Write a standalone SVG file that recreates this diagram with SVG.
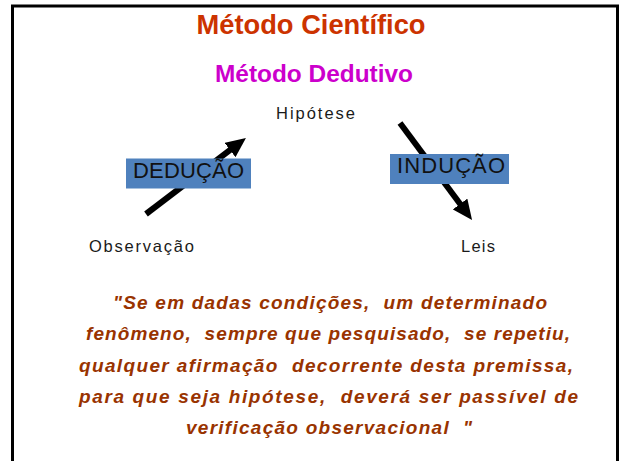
<svg xmlns="http://www.w3.org/2000/svg" width="621" height="461" viewBox="0 0 621 461">
<style>
.lbl{font-family:"Liberation Sans",Arial,sans-serif;font-size:16.5px;fill:#1a1a1a}
.box{fill:#4F81BD}
.boxt{font-family:"Liberation Sans",Arial,sans-serif;font-size:22px;fill:#111}
.q{font-family:"Liberation Sans",Arial,sans-serif;font-size:19px;font-weight:bold;font-style:italic;fill:#993300;white-space:pre}
.arr{stroke:#000;stroke-width:6;fill:none}
</style>
<defs>
<marker id="ah" viewBox="0 0 20 18" refX="6" refY="9" markerWidth="20" markerHeight="18" markerUnits="userSpaceOnUse" orient="auto">
<path d="M0,0 L20,9 L0,18 z" fill="#000"/>
</marker>
</defs>
<rect x="0" y="0" width="621" height="461" fill="#fff"/>
<rect x="12.5" y="6" width="605" height="500" fill="none" stroke="#000" stroke-width="3"/>
<text x="311" y="34" text-anchor="middle" font-family="Liberation Sans, Arial, sans-serif" font-size="28" font-weight="bold" fill="#CC3300" textLength="229" lengthAdjust="spacingAndGlyphs">Método Científico</text>
<text x="314" y="82" text-anchor="middle" font-family="Liberation Sans, Arial, sans-serif" font-size="24" font-weight="bold" fill="#CC00CC" textLength="198" lengthAdjust="spacingAndGlyphs">Método Dedutivo</text>
<g id="connectors">
<line class="arr" x1="146" y1="214" x2="234.8" y2="146.4" marker-end="url(#ah)"/>
<line class="arr" x1="400" y1="123" x2="463.7" y2="208.8" marker-end="url(#ah)"/>
</g>
<g id="hipotese"><text class="lbl" x="276" y="119" textLength="79" lengthAdjust="spacing">Hipótese</text></g>
<g id="observacao"><text class="lbl" x="89" y="252" textLength="105" lengthAdjust="spacing">Observação</text></g>
<g id="leis"><text class="lbl" x="461" y="252" textLength="34" lengthAdjust="spacing">Leis</text></g>
<g id="deducao">
<rect class="box" x="126" y="158.5" width="125" height="30"/>
<text class="boxt" x="133" y="178" textLength="111" lengthAdjust="spacing">DEDUÇÃO</text>
</g>
<g id="inducao">
<rect class="box" x="390" y="154" width="119" height="30"/>
<text class="boxt" x="397" y="173" textLength="108" lengthAdjust="spacing">INDUÇÃO</text>
</g>
<g id="citacao">
<text class="q" x="113" y="309" textLength="434" lengthAdjust="spacing">"Se em dadas condições,  um determinado</text>
<text class="q" x="86" y="340" textLength="484" lengthAdjust="spacing">fenômeno,  sempre que pesquisado,  se repetiu,</text>
<text class="q" x="79" y="372" textLength="494" lengthAdjust="spacing">qualquer afirmação  decorrente desta premissa,</text>
<text class="q" x="79" y="403" textLength="499" lengthAdjust="spacing">para que seja hipótese,  deverá ser passível de</text>
<text class="q" x="186" y="434" textLength="286" lengthAdjust="spacing">verificação observacional  "</text>
</g>
</svg>
